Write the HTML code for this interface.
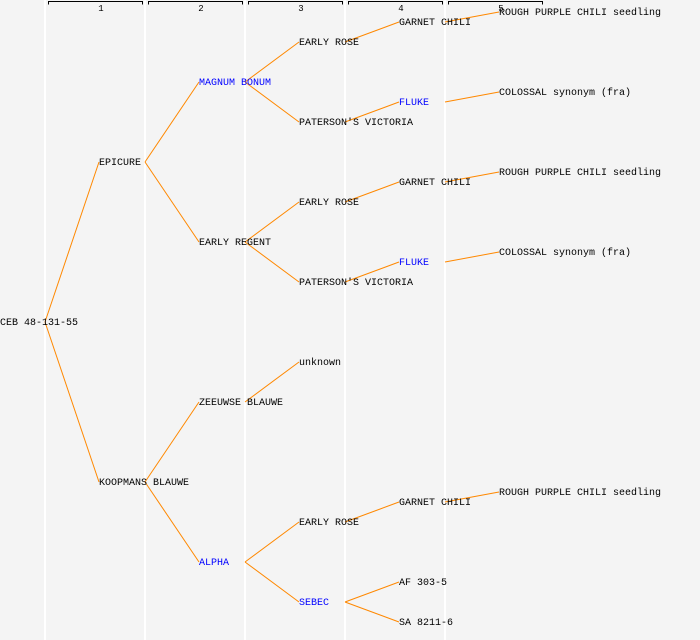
<!DOCTYPE html>
<html><head><meta charset="utf-8"><style>
html,body{margin:0;padding:0;background:#f4f4f4;}
svg{display:block;}
text{font-family:"Liberation Mono","DejaVu Sans Mono",monospace;font-size:10px;fill:#000;}
.b{fill:#0000ff;}
.h{font-size:9px;text-anchor:middle;}
line.c{stroke:#ff8800;stroke-width:1;}
</style></head><body>
<svg width="700" height="640" xmlns="http://www.w3.org/2000/svg">
<rect width="700" height="640" fill="#f4f4f4"/>
<g fill="#ffffff">
<rect x="44" y="0" width="2" height="640"/>
<rect x="144" y="0" width="2" height="640"/>
<rect x="244" y="0" width="2" height="640"/>
<rect x="344" y="0" width="2" height="640"/>
<rect x="444" y="0" width="2" height="640"/>
</g>
<g stroke="#000" stroke-width="1" fill="none">
<path d="M48.5 4.5V1.5H142.5V4.5"/>
<path d="M148.5 4.5V1.5H242.5V4.5"/>
<path d="M248.5 4.5V1.5H342.5V4.5"/>
<path d="M348.5 4.5V1.5H442.5V4.5"/>
<path d="M448.5 4.5V1.5H542.5V4.5"/>
</g>
<text class="h" x="101" y="11">1</text>
<text class="h" x="201" y="11">2</text>
<text class="h" x="301" y="11">3</text>
<text class="h" x="401" y="11">4</text>
<text class="h" x="501" y="11">5</text>
<g>
<line class="c" x1="45" y1="322" x2="99" y2="162"/>
<line class="c" x1="45" y1="322" x2="99" y2="482"/>
<line class="c" x1="145" y1="162" x2="199" y2="82"/>
<line class="c" x1="145" y1="162" x2="199" y2="242"/>
<line class="c" x1="245" y1="82" x2="299" y2="42"/>
<line class="c" x1="245" y1="82" x2="299" y2="122"/>
<line class="c" x1="345" y1="42" x2="399" y2="22"/>
<line class="c" x1="445" y1="22" x2="499" y2="12"/>
<line class="c" x1="345" y1="122" x2="399" y2="102"/>
<line class="c" x1="445" y1="102" x2="499" y2="92"/>
<line class="c" x1="245" y1="242" x2="299" y2="202"/>
<line class="c" x1="245" y1="242" x2="299" y2="282"/>
<line class="c" x1="345" y1="202" x2="399" y2="182"/>
<line class="c" x1="445" y1="182" x2="499" y2="172"/>
<line class="c" x1="345" y1="282" x2="399" y2="262"/>
<line class="c" x1="445" y1="262" x2="499" y2="252"/>
<line class="c" x1="145" y1="482" x2="199" y2="402"/>
<line class="c" x1="145" y1="482" x2="199" y2="562"/>
<line class="c" x1="245" y1="402" x2="299" y2="362"/>
<line class="c" x1="245" y1="562" x2="299" y2="522"/>
<line class="c" x1="245" y1="562" x2="299" y2="602"/>
<line class="c" x1="345" y1="522" x2="399" y2="502"/>
<line class="c" x1="445" y1="502" x2="499" y2="492"/>
<line class="c" x1="345" y1="602" x2="399" y2="582"/>
<line class="c" x1="345" y1="602" x2="399" y2="622"/>
</g>
<text x="0" y="325">CEB 48-131-55</text>
<text x="99" y="165">EPICURE</text>
<text x="99" y="485">KOOPMANS BLAUWE</text>
<text class="b" x="199" y="85">MAGNUM BONUM</text>
<text x="199" y="245">EARLY REGENT</text>
<text x="199" y="405">ZEEUWSE BLAUWE</text>
<text class="b" x="199" y="565">ALPHA</text>
<text x="299" y="45">EARLY ROSE</text>
<text x="299" y="125">PATERSON'S VICTORIA</text>
<text x="299" y="205">EARLY ROSE</text>
<text x="299" y="285">PATERSON'S VICTORIA</text>
<text x="299" y="365">unknown</text>
<text x="299" y="525">EARLY ROSE</text>
<text class="b" x="299" y="605">SEBEC</text>
<text x="399" y="25">GARNET CHILI</text>
<text class="b" x="399" y="105">FLUKE</text>
<text x="399" y="185">GARNET CHILI</text>
<text class="b" x="399" y="265">FLUKE</text>
<text x="399" y="505">GARNET CHILI</text>
<text x="399" y="585">AF 303-5</text>
<text x="399" y="625">SA 8211-6</text>
<text x="499" y="15">ROUGH PURPLE CHILI seedling</text>
<text x="499" y="95">COLOSSAL synonym (fra)</text>
<text x="499" y="175">ROUGH PURPLE CHILI seedling</text>
<text x="499" y="255">COLOSSAL synonym (fra)</text>
<text x="499" y="495">ROUGH PURPLE CHILI seedling</text>
</svg>
</body></html>
